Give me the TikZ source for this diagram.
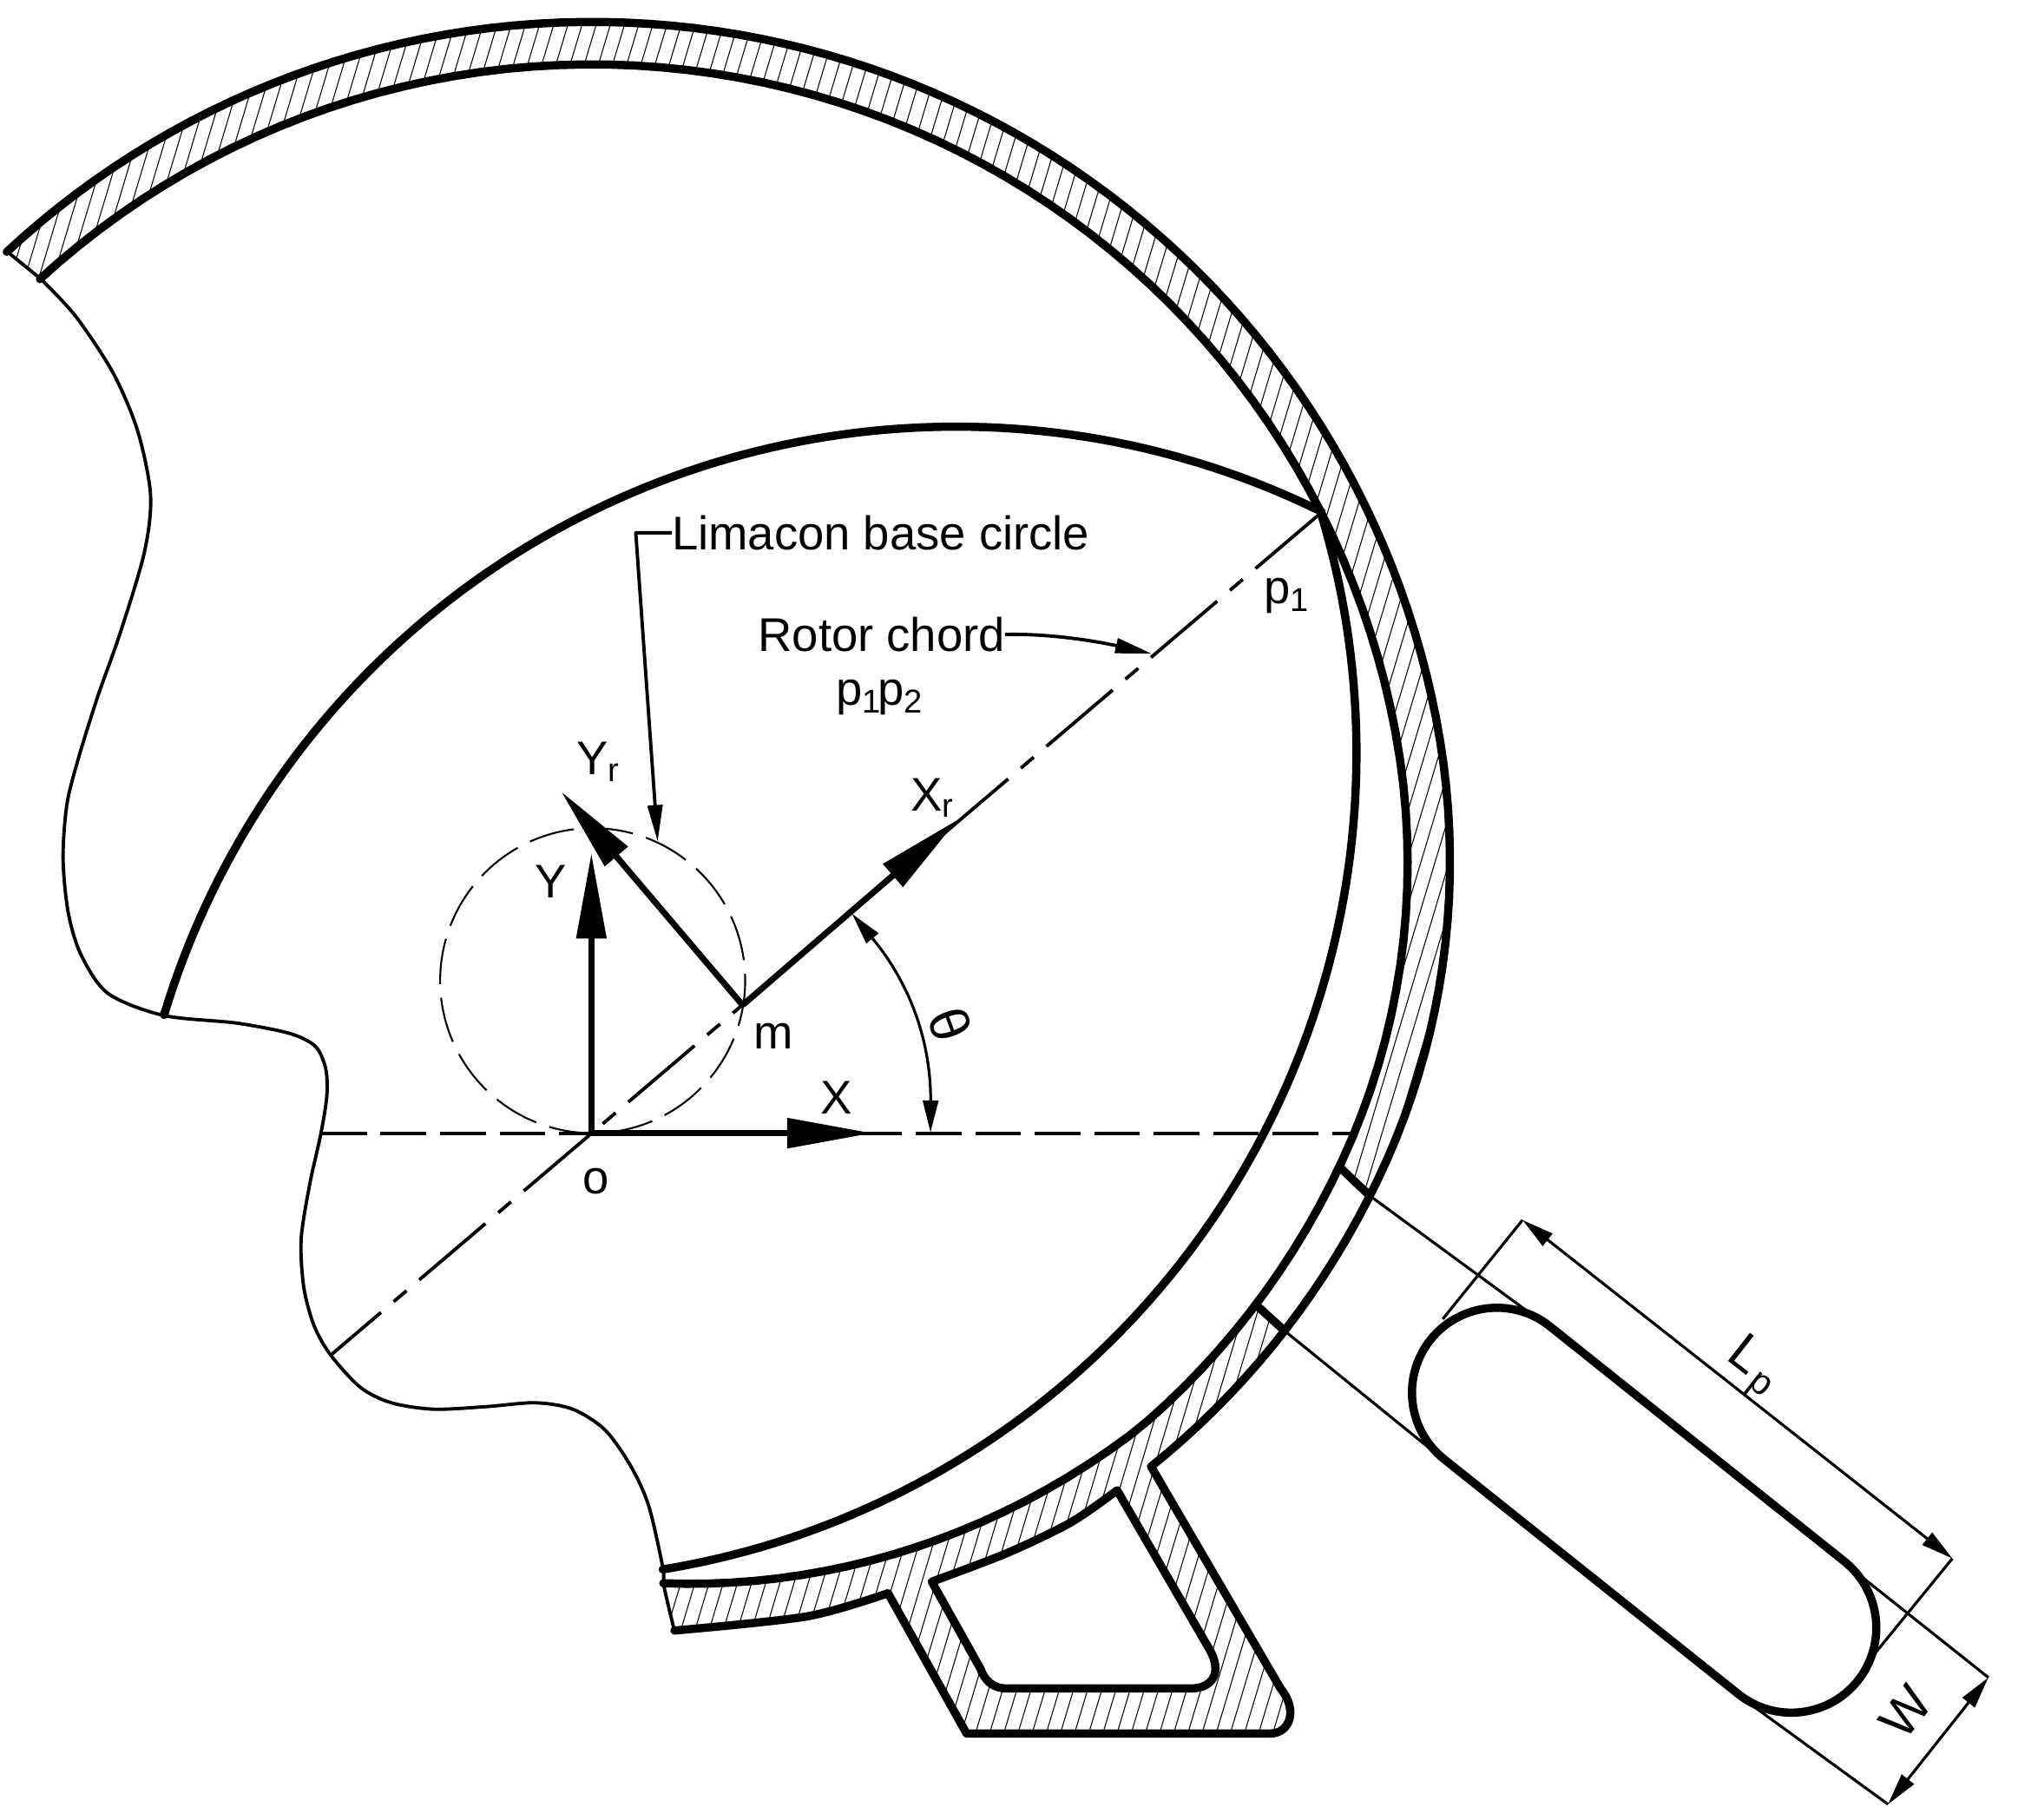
\documentclass[tikz,border=0pt]{standalone}
\usepackage{fontspec}
\setmainfont{Liberation Sans}
\usetikzlibrary{arrows.meta,shapes.misc}
\tikzset{
  x=0.014828cm,y=-0.014828cm,
  declare function={
    gs(\t)=(\t>10)?0:((\t<-20)?(-5-\t):((10-\t)*(10-\t)/60));
    Rout(\t)=668-0.95*gs(\t);
    Rin(\t)=(\t>-45)?(635-0.85*gs(\t)):(601+1.35*(\t+45));
  },
  boldline/.style={line width=2.7pt,line cap=round,line join=round},
  thinline/.style={line width=1.1pt,line cap=round,line join=round},
  dimline/.style={line width=0.9pt},
  hatchline/.style={line width=0.3pt},
  axisline/.style={line width=2pt},
  axishead/.style={-{Triangle[length=28pt,width=9.5pt]}},
  smallhead/.style={-{Triangle[length=12pt,width=4.8pt]}},
  dualhead/.style={{Triangle[length=10.5pt,width=5pt]}-{Triangle[length=10.5pt,width=5pt]}},
  lbl/.style={font=\fontsize{15.5}{18}\selectfont,inner sep=0pt,outer sep=0pt},
}
\newcommand{\outerarc}[2]{plot[domain=#1:#2,samples=120,variable=\t] ({460+Rout(\t)*cos(\t)},{685-Rout(\t)*sin(\t)})}
\newcommand{\innerarc}[2]{plot[domain=#1:#2,samples=120,variable=\t] ({460+Rin(\t)*cos(\t)},{685-Rin(\t)*sin(\t)})}
\newcommand{\lowerwall}{plot[smooth] coordinates {(524,1267) (627,1256) (690,1238)}}
\newcommand{\lugedge}{-- (751,1347) -- (987,1347) .. controls (1002,1347) and (1009,1329) .. (995,1312) -- (894.4,1139.6)}
\newcommand{\bandtop}{plot[domain=132.9:-22,samples=120,variable=\t] ({460+Rout(\t)*cos(\t)},{685-Rout(\t)*sin(\t)}) -- plot[domain=-20.9:132.5,samples=120,variable=\t] ({460+Rin(\t)*cos(\t)},{685-Rin(\t)*sin(\t)}) -- cycle}
\newcommand{\bandlow}{plot[domain=-32.5:-84.2,samples=60,variable=\t] ({460+Rin(\t)*cos(\t)},{685-Rin(\t)*sin(\t)}) -- plot[smooth] coordinates {(524,1267) (627,1256) (690,1238)} \lugedge -- plot[domain=-46.3:-33,samples=20,variable=\t] ({460+Rout(\t)*cos(\t)},{685-Rout(\t)*sin(\t)}) -- cycle}
\newcommand{\pocket}{plot[smooth] coordinates {(724,1229) (782,1207) (832,1183) (868,1158)} -- (940,1282) .. controls (950,1300) and (942,1312) .. (925,1312) -- (782,1312) .. controls (772,1312) and (765,1306) .. (762,1297) -- cycle}
\newcommand{\hatchfill}{\foreach \i in {-430,-419,...,1750}{\draw[hatchline] (\i,1420) -- (\i+426,0);}}
\begin{document}
\begin{tikzpicture}
\useasboundingbox (0,0) rectangle (1568,1413.6);
\fill[white] (0,0) rectangle (1568,1413.6);
% named points
\coordinate (o) at (459.5,880.5);
\coordinate (m) at (577,781);
\coordinate (p1) at (1027,398);
\coordinate (chordend) at (257,1053);
\coordinate (xtip) at (678,880.5);
\coordinate (ytip) at (459.5,663);
\coordinate (yrtip) at (436,615);
\coordinate (xrtip) at (744,637);
\coordinate (axl) at (249.5,880.5);
\coordinate (axr) at (1053,880.5);
\coordinate (tha) at (723,880);
\coordinate (thb) at (662,710);
\coordinate (portOutTop) at (1064.4,929.2);
\coordinate (portInTop) at (1041,907);
\coordinate (portOutLow) at (998,1034);
\coordinate (portInLow) at (976,1014);
% hatching
\begin{scope}\clip \bandtop; \hatchfill \end{scope}
\begin{scope}\clip \bandlow; \hatchfill \end{scope}
\fill[white] \pocket;
% housing
\draw[boldline] \outerarc{132.9}{-46.3};
\draw[boldline] \innerarc{132.5}{-84.2};
\draw[boldline] \lowerwall \lugedge;
\draw[boldline] \pocket;
\draw[boldline] (portInTop) -- (portOutTop);
\draw[boldline] (portInLow) -- (portOutLow);
% rotor
\draw[boldline] plot[domain=163.2:63.8,samples=100,variable=\t] ({743+643*cos(\t)},{974.5-643*sin(\t)});
\draw[boldline] plot[domain=16.7:-80.7,samples=100,variable=\t] ({411+643*cos(\t)},{585-643*sin(\t)});
% thin profile
\draw[thinline] (5,195) -- (32,217);
\draw[thinline] plot[smooth] coordinates {(32,217) (59,246) (88,290) (107,335) (117,385) (112,430) (93,493) (76,541) (61,589) (52,625) (49,667) (53,709) (63,742) (84,772) (127,789) (184,795) (225,803) (245,813) (253,830) (254,851) (249.5,880) (240.5,921) (234,963) (236,1000) (244,1030) (257,1053) (280,1078) (304,1090) (337,1095) (378,1093) (416,1090) (445,1095) (470,1111) (490,1139) (504,1170) (515,1218) (516,1233) (524,1267)};
% dashed
\draw[line width=0.6pt,dash pattern=on 15pt off 4.5pt] (460.5,762) ellipse [x radius=118.5,y radius=118.5];
\draw[thinline,line cap=butt,dash pattern=on 15pt off 4.5pt] (axl) -- (axr);
\draw[thinline,line cap=butt,dash pattern=on 28.5pt off 5.5pt on 5.5pt off 5.5pt] (p1) -- (chordend);
% axes
\draw[axisline,axishead] (o) -- (xtip);
\draw[axisline,axishead] (o) -- (ytip);
\draw[axisline,axishead] (m) -- (yrtip);
\draw[axisline,axishead] (m) -- (xrtip);
% angle
\draw[dimline,dualhead] (tha) to[bend right=20] (thb);
% leaders
\node[lbl,anchor=west] (limacon) at (522,414) {Limacon base circle};
\node[lbl] (rotor) at (685,493) {Rotor chord};
\node[lbl] (pp) at (684,542) {p\textsubscript{1}\kern-1.5pt p\textsubscript{2}};
\coordinate (limtip) at (511,654);
\coordinate (rottip) at (895,508);
\draw[thinline,smallhead,line cap=butt] (limacon.west) -- (494,414) -- (limtip);
\draw[thinline,smallhead,line cap=butt] (rotor.east) .. controls (820,492) and (860,500) .. (rottip);
% port extension + oval
\node[draw,rounded rectangle,line width=2.7pt,minimum width=6.30cm,minimum height=1.957cm,rotate=-38.6,inner sep=0pt,outer sep=0pt] (oval) at (1277.5,1173.5) {};
\coordinate (lpa) at (1183,948);
\coordinate (lpb) at (1517,1211);
\coordinate (wa) at (1545,1303.5);
\coordinate (wb) at (1467,1402);
\draw[dimline] (portOutTop) -- (1204,1031.5);
\draw[dimline] (portOutLow) -- (1122,1134.5);
\draw[dimline] (1433,1214.5) -- (wa);
\draw[dimline] (1351,1317.5) -- (wb);
\draw[dimline] (1121,1025) -- (lpa);
\draw[dimline] (1455,1287) -- (lpb);
\draw[dimline,dualhead] (lpa) -- (lpb);
\draw[dimline,dualhead] (wa) -- (wb);
% labels
\node[lbl] (lp1) at (1000,463) {p\textsubscript{1}};
\node[lbl] (yr) at (465,592) {Y\textsubscript{r}};
\node[lbl] (xr) at (725,620) {X\textsubscript{r}};
\node[lbl] (yl) at (428,685) {Y};
\node[lbl] (xl) at (650,853) {X};
\node[lbl] (ml) at (601,805) {m};
\node[lbl] (ol) at (463,918) {o};
\node[lbl,rotate=-70,font=\fontsize{18}{20}\selectfont] (th) at (738,796) {θ};
\node[lbl,rotate=-38,font=\fontsize{17}{20}\selectfont] (lpl) at (1362,1063) {L\kern1.5pt\textsubscript{p}};
\node[lbl,rotate=52,font=\fontsize{17}{20}\selectfont] (wl) at (1481,1330) {W};
\end{tikzpicture}
\end{document}
